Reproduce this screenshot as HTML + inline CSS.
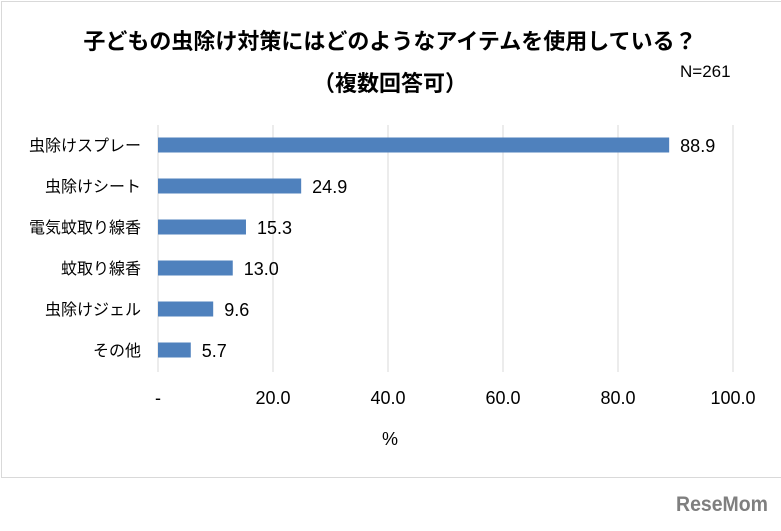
<!DOCTYPE html>
<html><head><meta charset="utf-8"><style>
body{margin:0;background:#fff;width:781px;height:526px;overflow:hidden;font-family:"Liberation Sans","Noto Sans CJK JP",sans-serif}
svg text{font-family:"Liberation Sans","Noto Sans CJK JP",sans-serif}
</style></head><body>
<svg width="781" height="526">
<rect x="1.5" y="1.5" width="781" height="476" fill="#fff" stroke="#d9d9d9"/>
<text x="390" y="49" text-anchor="middle" font-size="22" font-weight="bold" fill="#000">子どもの虫除け対策にはどのようなアイテムを使用している？</text>
<text x="390" y="91" text-anchor="middle" font-size="22" font-weight="bold" fill="#000">（複数回答可）</text>
<text x="680" y="77" font-size="17" fill="#000">N=261</text>
<g id="grid"></g><g id="bars"></g><g id="labels"></g>
<text x="390" y="445" text-anchor="middle" font-size="18" fill="#000">%</text>
<text x="768" y="511" text-anchor="end" font-size="21" font-weight="bold" fill="#7f7f7f" textLength="92" lengthAdjust="spacingAndGlyphs">ReseMom</text>
</svg>
<script>
const categories=["虫除けスプレー","虫除けシート","電気蚊取り線香","蚊取り線香","虫除けジェル","その他"];
const values=[88.9,24.9,15.3,13.0,9.6,5.7];
const ticks=[0,20,40,60,80,100];
const tickLabels=["-","20.0","40.0","60.0","80.0","100.0"];
const NS="http://www.w3.org/2000/svg";
const x=v=>158+v*5.75;
const y=i=>145+i*41;
function mk(t,a,p){const e=document.createElementNS(NS,t);for(const k in a)e.setAttribute(k,a[k]);document.getElementById(p).appendChild(e);return e;}
ticks.forEach((t,i)=>{
 const l=mk('line',{x1:x(t),x2:x(t),y1:125,y2:372,stroke:'#d9d9d9','stroke-width':1},'grid');
 
 
 const tx=mk('text',{x:x(t),y:404,'text-anchor':'middle','font-size':18,fill:'#000'},'labels');
 tx.textContent=tickLabels[i];
 
 
});
categories.forEach((c,i)=>{
 const r=mk('rect',{x:x(0),y:y(i)-7.5,width:x(values[i])-x(0),height:15,fill:'#4f81bd'},'bars');
 
 
 const cl=mk('text',{x:141,y:y(i)+6,'text-anchor':'end','font-size':16,fill:'#000'},'labels');
 cl.textContent=c;
 
 
 const vl=mk('text',{x:x(values[i])+11,y:y(i)+7,'font-size':18,fill:'#000'},'labels');
 vl.textContent=values[i].toFixed(1);
 
 
});
</script>
</body></html>
